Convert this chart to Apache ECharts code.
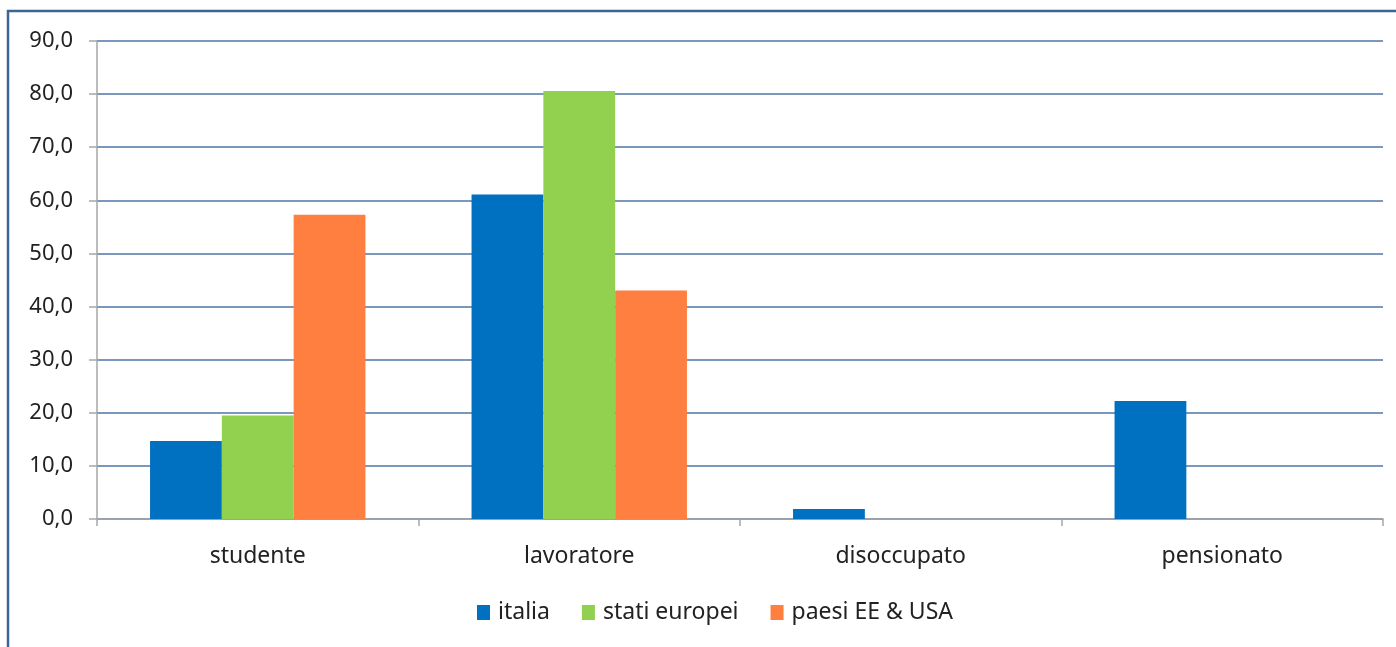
<!DOCTYPE html>
<html>
<head>
<meta charset="utf-8">
<script src="https://cdn.jsdelivr.net/npm/echarts@6/dist/echarts.min.js"></script>
<style>
html,body{margin:0;padding:0;background:#fff;}
#chart{width:1396px;height:647px;}
</style>
</head>
<body>
<div id="chart"></div>
<script>
var categories = ['studente', 'lavoratore', 'disoccupato', 'pensionato'];
var seriesNames = ['italia', 'stati europei', 'paesi EE & USA'];
var italia = [14.7, 61.1, 1.9, 22.2];
var statiEuropei = [19.5, 80.6, null, null];
var paesiEEUSA = [57.3, 43.0, null, null];
var yTicks = { min: 0, max: 90, interval: 10 };

var colors = ['#0070C0', '#92D050', '#FF7F41'];
var font = '"Noto Sans", "Open Sans", sans-serif';

var chart = echarts.init(document.getElementById('chart'), null, { renderer: 'canvas' });
chart.setOption({
  animation: false,
  backgroundColor: '#ffffff',
  graphic: [{
    type: 'rect',
    shape: { x: 8, y: 11, width: 1400, height: 660 },
    style: { fill: 'none', stroke: '#3C6497', lineWidth: 2.5 },
    silent: true
  }],
  grid: { left: 97, right: 13, top: 41, bottom: 128, containLabel: false },
  legend: {
    data: seriesNames,
    top: 596,
    left: 472,
    itemWidth: 13,
    itemHeight: 15,
    itemGap: 32,
    icon: 'rect',
    textStyle: { fontFamily: font, fontSize: 23, color: '#222', padding: [0, 0, 0, 3] }
  },
  xAxis: {
    type: 'category',
    data: categories,
    axisLine: { lineStyle: { color: '#a6a6a6', width: 1.5 } },
    axisTick: { show: true, alignWithLabel: false, length: 7, lineStyle: { color: '#a6a6a6', width: 1.5 } },
    axisLabel: { fontFamily: font, fontSize: 23, color: '#222', margin: 26 }
  },
  yAxis: {
    type: 'value',
    min: yTicks.min,
    max: yTicks.max,
    interval: yTicks.interval,
    axisLine: { show: true, lineStyle: { color: '#a6a6a6', width: 1.5 } },
    axisTick: { show: true, length: 8, lineStyle: { color: '#a6a6a6', width: 1.5 } },
    splitLine: { lineStyle: { color: '#4E74A8', width: 1.5 } },
    axisLabel: {
      fontFamily: font, fontSize: 22, color: '#222', margin: 24,
      formatter: function (v) { return v.toFixed(1).replace('.', ','); }
    }
  },
  series: [
    { name: seriesNames[0], type: 'bar', data: italia, itemStyle: { color: colors[0] }, barGap: '0%', barCategoryGap: '33%' },
    { name: seriesNames[1], type: 'bar', data: statiEuropei, itemStyle: { color: colors[1] }, barGap: '0%', barCategoryGap: '33%' },
    { name: seriesNames[2], type: 'bar', data: paesiEEUSA, itemStyle: { color: colors[2] }, barGap: '0%', barCategoryGap: '33%' }
  ]
});
</script>
</body>
</html>
